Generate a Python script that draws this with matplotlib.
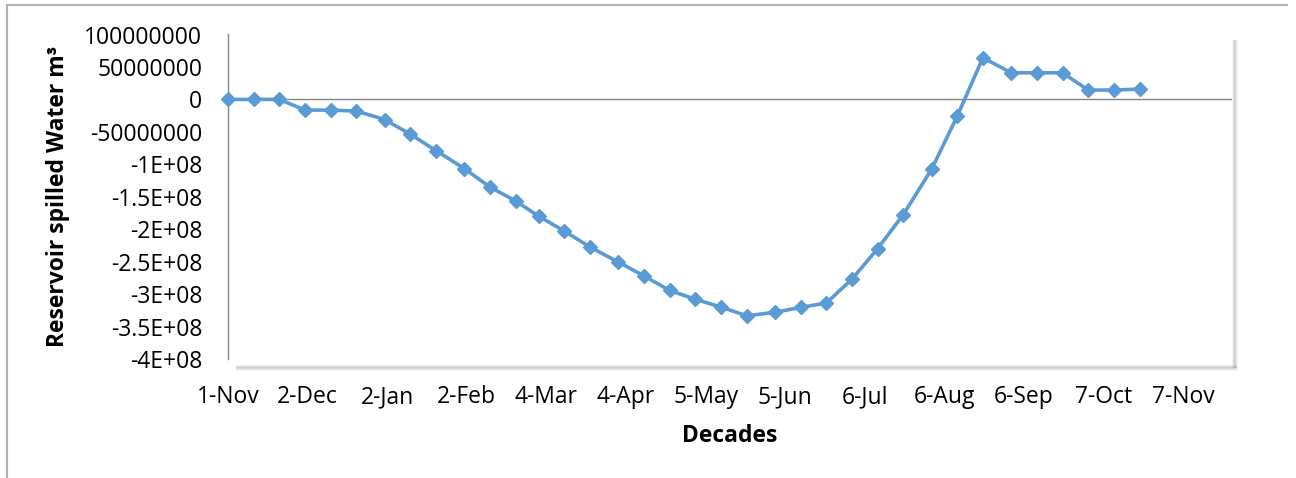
import matplotlib
matplotlib.use("Agg")
import matplotlib.pyplot as plt
import matplotlib.dates as mdates
from matplotlib.lines import Line2D
import numpy as np

# ---- data ----
decade_dates = [
    "2015-11-01", "2015-11-11", "2015-11-21",
    "2015-12-01", "2015-12-11", "2015-12-21",
    "2016-01-01", "2016-01-11", "2016-01-21",
    "2016-02-01", "2016-02-11", "2016-02-21",
    "2016-03-01", "2016-03-11", "2016-03-21",
    "2016-04-01", "2016-04-11", "2016-04-21",
    "2016-05-01", "2016-05-11", "2016-05-21",
    "2016-06-01", "2016-06-11", "2016-06-21",
    "2016-07-01", "2016-07-11", "2016-07-21",
    "2016-08-01", "2016-08-11", "2016-08-21",
    "2016-09-01", "2016-09-11", "2016-09-21",
    "2016-10-01", "2016-10-11", "2016-10-21",
]
spilled_water = [
    0, 0, 0,
    -16.5e6, -16.5e6, -18e6,
    -31e6, -53.6e6, -79e6,
    -106.5e6, -135e6, -156.5e6,
    -180e6, -203e6, -227.5e6,
    -250.7e6, -272e6, -294.4e6,
    -308e6, -320e6, -333.4e6,
    -328e6, -320.6e6, -313.7e6,
    -277e6, -230e6, -177.5e6,
    -107.6e6, -25.8e6, 64.2e6,
    41e6, 41e6, 41e6,
    14.4e6, 14.4e6, 15.9e6,
]
x_tick_dates = [
    "2015-11-01", "2015-12-02", "2016-01-02", "2016-02-02", "2016-03-04",
    "2016-04-04", "2016-05-05", "2016-06-05", "2016-07-06", "2016-08-06",
    "2016-09-06", "2016-10-07", "2016-11-07",
]
y_tick_values = [1e8, 5e7, 0, -5e7, -1e8, -1.5e8, -2e8, -2.5e8, -3e8, -3.5e8, -4e8]
y_tick_labels = ["100000000", "50000000", "0", "-50000000", "-1E+08", "-1.5E+08",
                 "-2E+08", "-2.5E+08", "-3E+08", "-3.5E+08", "-4E+08"]
x_limits = ("2015-11-01", "2016-11-26")

# ---- style ----
plt.rcParams['font.family'] = ['Open Sans', 'DejaVu Sans']
FS = 16.5
W, H = 1296, 478
BLUE = "#5B9BD5"
AXIS_GREY = "#868686"

fig = plt.figure(figsize=(W / 100, H / 100), dpi=100)
L, R, T, B = 228, 1232, 34.5, 359
ax = fig.add_axes([L / W, 1 - B / H, (R - L) / W, (B - T) / H])

x = np.array(decade_dates, dtype="datetime64[D]")
ax.plot(x, spilled_water, color=BLUE, lw=2.6, marker="D", ms=7.6,
        markerfacecolor=BLUE, markeredgecolor=BLUE, zorder=3, clip_on=False)

ax.axhline(0, color=AXIS_GREY, lw=1.0, zorder=1)

ax.set_xlim(np.datetime64(x_limits[0]), np.datetime64(x_limits[1]))
ax.set_ylim(-4e8, 1e8)
ax.set_xticks(np.array(x_tick_dates, dtype="datetime64[D]"))
ax.xaxis.set_major_formatter(mdates.DateFormatter("%-d-%b"))
ax.set_yticks(y_tick_values)
ax.set_yticklabels(y_tick_labels)
ax.tick_params(axis="both", length=0, labelsize=FS, colors="black")
ax.tick_params(axis="y", pad=18.5)
ax.tick_params(axis="x", pad=19)

for s in ["top", "right", "bottom"]:
    ax.spines[s].set_visible(False)
ax.spines["left"].set_color(AXIS_GREY)
ax.spines["left"].set_linewidth(1.0)

# plot-area shadow
def fig_line(xs, ys, **kw):
    fig.add_artist(Line2D([v / W for v in xs], [1 - v / H for v in ys],
                          transform=fig.transFigure, **kw))

for off, a in [(-2, 0.10), (-1, 0.22), (0, 0.35), (1, 0.28), (2, 0.16), (3, 0.07)]:
    fig_line([236, 1236], [367 + off, 367 + off], color="#808080", lw=0.8, alpha=a)
    fig_line([1234 + off, 1234 + off], [40, 367], color="#808080", lw=0.8, alpha=a)

# outer chart border
fig_line([7, 7], [5, H + 2], color="#b3b3b3", lw=1.5)
fig_line([7, 1287], [5, 5], color="#b3b3b3", lw=1.5)

# axis titles
fig.text(58 / W, 1 - (T + B) / 2 / H, "Reservoir spilled Water m³", rotation=90,
         ha="center", va="center", fontsize=FS, fontweight="bold")
fig.text((L + R) / 2 / W, 1 - 436 / H, "Decades", ha="center", va="center",
         fontsize=FS, fontweight="bold")

fig.savefig("out.png", dpi=100)
